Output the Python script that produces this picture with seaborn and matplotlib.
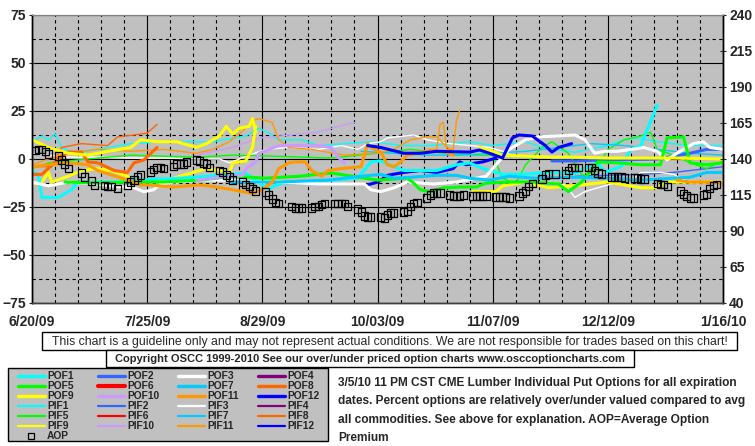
import matplotlib
matplotlib.use('Agg')
import matplotlib.pyplot as plt
import seaborn as sns
import pandas as pd
from matplotlib.lines import Line2D
from matplotlib.patches import Rectangle
from matplotlib.ticker import MultipleLocator

# подписи оси X (дни от 6/20/09)
tick_days = [0, 35, 70, 105, 140, 175, 210]
tick_labels = ['6/20/09', '7/25/09', '8/29/09', '10/03/09', '11/07/09', '12/12/09', '1/16/10']

# AOP (правая ось)
aop_days = [1, 2, 3, 4, 5, 8, 9, 10, 11, 15, 16, 18, 19, 22, 23, 24, 26,
            29, 30, 31, 32, 33, 36, 37, 38, 39, 40, 43, 44, 45, 46, 47,
            50, 51, 52, 53, 54, 57, 58, 59, 60, 61, 64, 65, 66, 67, 68,
            71, 72, 73, 74, 75, 79, 80, 81, 82, 85, 86, 87, 88, 89,
            92, 93, 94, 95, 96, 99, 100, 101, 102, 103, 106, 107, 108, 109, 110,
            113, 114, 115, 116, 117, 120, 121, 122, 123, 124, 127, 128, 129, 130, 131,
            134, 135, 136, 137, 138, 141, 142, 143, 144, 145, 148, 149, 150, 151, 152,
            155, 156, 157, 159, 162, 163, 164, 165, 166, 169, 170, 171, 172, 173,
            176, 177, 178, 179, 180, 183, 184, 185, 186, 190, 191, 192, 193,
            197, 198, 199, 200, 201, 204, 205, 206, 207, 208]
aop_vals = [145.6, 146.3, 146.3, 144.9, 143.5, 142.1, 139.3, 136.5, 133.1,
            130.3, 127.5, 124.7, 121.9, 121.3, 120.6, 120.6, 119.2,
            121.3, 124.0, 125.4, 127.5, 128.9, 131.0, 132.4, 133.8, 133.8, 133.1,
            135.1, 136.5, 136.5, 136.5, 137.9, 139.3, 138.6, 137.2, 136.5, 134.4,
            131.7, 131.0, 128.9, 127.5, 125.4, 124.0, 122.6, 120.6, 119.2, 117.8,
            117.1, 115.0, 112.2, 110.1, 108.8, 106.7, 106.0, 106.0, 106.0,
            106.0, 106.7, 106.7, 108.1, 109.4, 109.4, 109.4, 109.4, 109.4, 106.7,
            105.3, 103.2, 100.4, 99.7, 99.7, 99.7, 99.0, 101.1, 102.5, 102.5,
            103.2, 103.9, 106.7, 108.8, 110.1, 112.9, 115.0, 116.4, 116.4, 116.4,
            115.0, 114.3, 114.3, 114.3, 115.0, 114.3, 114.3, 114.3, 114.3, 114.3,
            113.6, 113.6, 113.6, 113.6, 112.9, 114.3, 116.4, 117.8, 120.6, 123.3,
            126.1, 128.9, 129.6, 129.6, 129.6, 131.7, 133.8, 133.8, 134.4,
            134.4, 133.8, 131.7, 130.3, 129.6, 127.5, 127.5, 127.5, 127.5, 126.8,
            126.8, 126.8, 126.1, 126.1, 123.3, 122.6, 122.6, 120.6,
            117.8, 115.7, 114.3, 112.9, 112.9, 115.0, 115.7, 119.2, 121.3, 122.6]

# линии (день, значение в %)
pof1 = [(0, -6), (2, -9), (3, -20), (5, -20), (8, -20), (9, -19), (12, -16), (14, -12), (17, -12),
        (26, -12), (31, -11), (45, -10), (61, -8), (65, -7.5), (70, -13.5), (72, -16), (73, -14.6),
        (76, -12.5), (81, -12), (87, -11.5), (91, -11), (99, -10), (103, -1.5), (106, -1), (110, -4),
        (113, -6), (123, -6), (129, -3), (133, -2), (137, -5), (143, -8), (149, -8), (157, -7),
        (165, -7.5), (169, -4), (172, -2), (174, -7), (179, -4), (182, 5), (185, 7), (190, 28)]
pif1 = [(0, 9), (3, 12), (5, 10), (7, 13), (9, 6), (13, 3), (20, 5), (30, 8), (40, 9), (55, 9),
        (65, 12), (69, 16), (72, 13.5), (75, 10), (82, 10), (87, 7), (95, 8), (103, 9), (113, 7),
        (121, 7), (133, 9), (140, 7), (150, 9), (155, 6), (165, 3.5), (175, 7), (180, 10), (184, 11),
        (190, 9), (200, 7), (210, 7)]
pof2 = [(158, -1), (165, -1), (175, -0.5), (190, 0), (197, 2), (200, 3), (205, 5), (210, 5)]
pif2 = [(165, -9), (175, -8.5), (185, -8), (195, -7), (200, -6), (210, -4)]
pof3 = [(0, -12), (5, -14), (11, -12), (20, -13), (24, -14), (31, -15), (34, -17), (37, -16), (39, -13),
        (43, -12), (51, -11), (61, -11), (68, -12), (76, -12), (87, -13), (97, -13), (101, -13),
        (103, -16), (106, -17), (110, -15), (114, -12), (122, -13), (129, -12), (138, -9), (145, 5),
        (150, 10), (154, 11.5), (165, 12.5), (168, 10), (171, 3), (174, 4), (178, 4), (186, 6),
        (190, 4), (193, -0.5), (196, 3), (201, 8), (204, 9), (206, 6), (210, 5)]
pif3 = [(0, 3), (10, 1), (20, 1), (30, 0.5), (40, 0.5), (50, 0), (57, 0), (60, -2), (63, 0), (66, 2),
        (71, 5), (78, 6), (87, 5), (94, 7), (99, 5), (102, 8), (106, 9), (108, 11), (116, 12.5),
        (120, 10), (127, 8), (133, 7), (139, 6), (145, 3)]
pif3_b = [(157, -12), (162, -13.5), (165, -20), (168, -17), (175, -13.5), (183, -10), (185, -7),
          (191, -7), (195, -8), (200, -12.5), (205, -12), (210, -12.5)]
pof5 = [(10, -12), (20, -12.5), (30, -12), (40, -12), (51, -11), (61, -9), (71, -10), (81, -9),
        (91, -7.3), (105, -11), (114, -10), (116, -12.5), (118, -16), (121, -17), (125, -15),
        (130, -14.6), (135, -14.6), (138, -12.5), (145, -12), (152, -12), (160, -13), (163, -17),
        (167, -12), (172, -1.5), (178, -2), (185, -3), (191, -3), (193, 11), (198, 11.5), (200, -2),
        (205, -3), (210, -2)]
pif5 = [(0, -5), (5, -2), (17, 0), (30, 2), (50, 1), (61, 2), (71, 1.6), (91, 0.5), (105, 3),
        (115, 5), (125, 3), (135, 2), (140, 2), (143, -10), (147, -13), (150, -3), (155, 6), (158, 9),
        (163, 3), (167, -8), (170, -10), (175, 5), (180, 10), (185, 12), (188, 14), (190, 5),
        (195, 2), (200, -2), (205, -5), (210, -1)]
pof7 = [(60, -12), (75, -12), (90, -11), (100, -9), (106, -8), (110, -10), (115, -9.5), (123, -8.5),
        (129, -8.5), (133, -10), (139, -11), (145, -9), (153, -10), (165, -9.5), (175, -10),
        (185, -11), (195, -10), (200, -9.5), (205, -7), (210, -7)]
pif7 = [(100, 4), (110, 3), (120, 2), (130, 2), (140, 3), (150, 4), (160, 6), (170, 8), (180, 7),
        (190, 5), (200, 3), (210, 2)]
pof8 = [(0, -8), (3, -8), (8, 0), (11, 3.6), (15, 3.6), (17, -1.5), (20, -2), (25, -6), (29, -7),
        (31, -2), (34, -0.5), (38, 6)]
pif8 = [(0, -4), (6, -4), (9, 6), (15, 8), (23, 7), (26, 11.5), (31, 12.5), (35, 13.5), (38, 18)]
pof9_a = [(0, 10), (5, 6), (11, 3), (17, 2), (23, 4), (30, 6), (33, 10), (38, 9), (44, 9), (50, 6),
          (53, 8), (57, 12), (59, 17), (61, 13), (63, 16), (66, 17), (67, 21), (68, 14)]
pof9_b = [(136, 6), (140, 4), (143, 2), (150, 1.5), (157, 1), (164, 1), (175, 0.5), (185, 0.5),
          (195, 0.5), (210, 0)]
pif9_a = [(0, -13), (3, -12), (5, -7), (6, -12), (11, -9), (15, -6), (20, -5), (24, -6), (29, -9),
          (31, -12), (36, -11), (43, -10), (49, -7), (53, -5), (57, -6), (60, -7), (61, -2), (65, -1),
          (67, 6), (68, 17)]
pif9_b = [(134, -17), (141, -17), (143, -14), (150, -12), (157, -15), (164, -14), (175, -12),
          (185, -15), (190, -15), (193, -12), (200, -12), (210, -12)]
pof10 = [(50, -11), (60, -9), (64, -8.5), (65, -5), (68, -1.5), (69, 3), (75, 7), (81, 7), (87, 7),
         (91, 6), (93, 1), (95, -2)]
pif10 = [(50, 2), (61, 6), (69, 11), (73, 11.5), (81, 13), (87, 14), (91, 16), (98, 19)]
pof11_a = [(0, -4), (5, -3), (11, -2), (17, -3), (20, -6), (29, -11), (33, -13.5), (36, -13.5),
           (43, -14.6), (51, -13.5), (56, -14.6), (61, -16), (67, -18), (70, -16), (73, -12), (75, -5),
           (78, -2), (80, -1.5), (83, -1.5), (85, -6), (88, -9), (90, -6), (94, -5), (100, -4),
           (102, 8), (103, 6), (106, 3.6), (108, -3), (110, -4), (112, -1.5), (114, 2), (120, 4),
           (125, 4), (128, 2)]
pof11_b = [(196, -11), (200, -12), (205, -12), (210, -12.5)]
pif11_a = [(0, -3), (10, 3), (20, 5), (30, 4), (40, 5), (50, 3), (55, 5), (60, 9), (65, 16), (67, 20),
           (69, 21), (73, 19), (75, 10), (78, 6), (85, 5), (95, 2), (105, 3), (110, 5), (115, 10),
           (120, 11.5), (123, 11.5), (125, 8), (127, 5)]
pif11_b = [(120, 5), (123, 5), (124, 18), (125, 19), (126, 5), (128, 5), (129, 20), (130, 25.5)]
pof12 = [(102, 7), (106, 6), (113, 3), (118, 3), (123, 4), (133, 3.6), (136, 4.7), (139, 3),
         (143, 0.5), (146, 11), (148, 12.5), (152, 12), (156, 7), (158, 3.6), (160, 6), (164, 8)]
pif12 = [(102, -13.5), (105, -12), (106, -11), (108, -8.5), (113, -7), (118, -6), (123, -7),
         (128, -5), (130, -1.5), (132, -3), (135, -2), (137, -1.5), (141, 0.5)]

colors = {1: '#00FFFF', 2: '#3366FF', 3: '#FFFFFF', 4: '#800080', 5: '#00FF00', 6: '#FF0000',
          7: '#00CCFF', 8: '#FF6600', 9: '#FFFF00', 10: '#CC99FF', 11: '#FF9900', 12: '#0000FF'}

# (данные, номер месяца, толстая линия?)
lines = [(pif1, 1, False), (pif2, 2, False), (pif3, 3, False), (pif3_b, 3, False),
         (pif5, 5, False), (pif7, 7, False), (pif8, 8, False), (pif10, 10, False),
         (pif11_a, 11, False), (pif11_b, 11, False),
         (pif9_a, 9, True), (pif9_b, 9, True), (pif12, 12, True),
         (pof1, 1, True), (pof2, 2, True), (pof3, 3, True), (pof5, 5, True), (pof7, 7, True),
         (pof8, 8, True), (pof9_a, 9, True), (pof9_b, 9, True), (pof10, 10, True),
         (pof11_a, 11, True), (pof11_b, 11, True), (pof12, 12, True)]

sns.set_style('white')
plt.rcParams['font.family'] = ['Liberation Sans', 'DejaVu Sans']

W, H = 755, 446
fig = plt.figure(figsize=(W / 100, H / 100), dpi=100)
ax = fig.add_axes([32 / W, 1 - 303 / H, 691 / W, 288 / H])
ax.set_facecolor('#C0C0C0')

for pts, m, thick in lines:
    df = pd.DataFrame(pts, columns=['day', 'val'])
    sns.lineplot(data=df, x='day', y='val', color=colors[m], lw=2.2 if thick else 1.0,
                 estimator=None, sort=False, ax=ax, legend=False)

ax.set_xlim(0, 210)
ax.set_ylim(-75, 75)
ax.set_yticks(range(-75, 76, 25))
ax.yaxis.set_minor_locator(MultipleLocator(12.5))
ax.set_xticks(tick_days)
ax.set_xticklabels(tick_labels)
ax.xaxis.set_minor_locator(MultipleLocator(7))
ax.set_axisbelow(True)
ax.grid(which='major', color='black', lw=0.8, ls='-')
ax.grid(which='minor', color='black', lw=0.8, ls=(0, (3, 3)))
ax.tick_params(which='minor', length=0)
ax.tick_params(axis='x', which='major', length=0, pad=9)
ax.tick_params(axis='y', which='major', length=5, width=0.8, pad=2, direction='inout')
ax.set_xlabel('')
ax.set_ylabel('')

ax2 = ax.twinx()
sns.scatterplot(x=aop_days, y=aop_vals, marker='s', s=26, ax=ax2, legend=False, zorder=5)
ax2.collections[-1].set_facecolor('none')
ax2.collections[-1].set_edgecolor('black')
ax2.collections[-1].set_linewidth(0.9)
ax2.set_ylim(40, 240)
ax2.set_yticks(range(40, 241, 25))
ax2.tick_params(axis='y', length=5, width=0.8, pad=2, direction='inout')
ax2.set_ylabel('')

for a in (ax, ax2):
    for s in ('left', 'right'):
        a.spines[s].set_color('black')
        a.spines[s].set_linewidth(1)
    a.spines['top'].set_color('#808080')
    a.spines['top'].set_linewidth(0.8)
    a.spines['bottom'].set_color('#404040')
    a.spines['bottom'].set_linewidth(1)
    for lab in a.get_xticklabels() + a.get_yticklabels():
        lab.set_fontweight('bold')
        lab.set_fontsize(10)


def box(x0, y0, x1, y1, fc):
    fig.add_artist(Rectangle((x0 / W, 1 - y1 / H), (x1 - x0) / W, (y1 - y0) / H,
                             transform=fig.transFigure, fc=fc, ec='black', lw=1))


box(42, 332, 737, 350, 'white')
fig.text((42 + 737) / 2 / W, 1 - 341.5 / H,
         'This chart is a guideline only and may not represent actual conditions. '
         'We are not responsible for trades based on this chart!',
         ha='center', va='center', fontsize=8.8)
box(106, 350, 634, 367, 'white')
fig.text((106 + 634) / 2 / W, 1 - 358.5 / H,
         'Copyright OSCC 1999-2010 See our over/under priced option charts www.osccoptioncharts.com',
         ha='center', va='center', fontsize=8, fontweight='bold')

# легенда
box(8, 368, 328, 441, '#C0C0C0')
columns = [[('POF', 1), ('POF', 5), ('POF', 9), ('PIF', 1), ('PIF', 5), ('PIF', 9)],
           [('POF', 2), ('POF', 6), ('POF', 10), ('PIF', 2), ('PIF', 6), ('PIF', 10)],
           [('POF', 3), ('POF', 7), ('POF', 11), ('PIF', 3), ('PIF', 7), ('PIF', 11)],
           [('POF', 4), ('POF', 8), ('POF', 12), ('PIF', 4), ('PIF', 8), ('PIF', 12)]]
for ci, col in enumerate(columns):
    x0 = 18 + ci * 80
    for ri, (kind, m) in enumerate(col):
        yy = 1 - (375.7 + ri * 10.1) / H
        lw = 2.4 if kind == 'POF' else 1.6
        if kind == 'POF' and m == 6:
            lw = 3.0
        fig.add_artist(Line2D([x0 / W, (x0 + 27) / W], [yy, yy], transform=fig.transFigure,
                              color=colors[m], lw=lw))
        fig.text((x0 + 29) / W, yy, f'{kind}{m}', ha='left', va='center', fontsize=7.4,
                 fontweight='bold')
yy = 1 - (375.7 + 6 * 10.1) / H
fig.add_artist(Line2D([31 / W], [yy], transform=fig.transFigure, marker='s', ms=5,
                      mfc='none', mec='black', mew=0.9, ls='none'))
fig.text(47 / W, yy, 'AOP', ha='left', va='center', fontsize=7.4, fontweight='bold')

fig.text(338 / W, 1 - 377 / H,
         '3/5/10 11 PM CST CME Lumber Individual Put Options for all expiration\n'
         'dates. Percent options are relatively over/under valued compared to avg\n'
         'all commodities. See above for explanation. AOP=Average Option\n'
         'Premium',
         ha='left', va='top', fontsize=8.6, fontweight='bold', linespacing=1.72)

fig.savefig('out.png', dpi=100)
